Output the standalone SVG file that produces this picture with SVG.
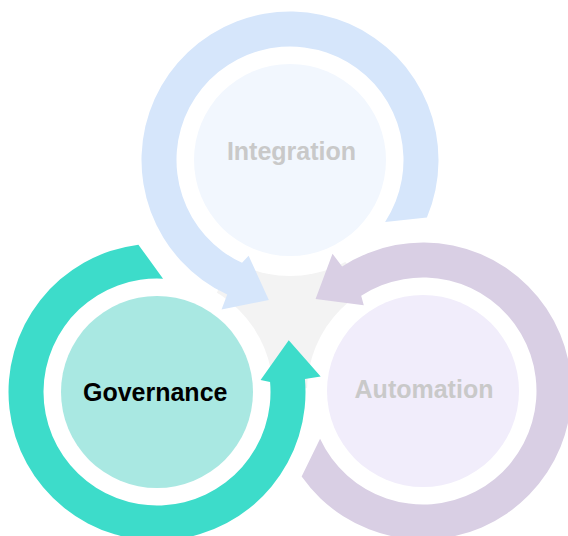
<svg xmlns="http://www.w3.org/2000/svg" xmlns:xlink="http://www.w3.org/1999/xlink" width="568" height="536" viewBox="0 0 568 536">
  <style>
    .halo { fill: #ffffff; }
    .label { font-family: "Liberation Sans", Arial, sans-serif; font-weight: bold; font-size: 25px; text-anchor: middle; }
    .faded { fill: #c9c9c9; }
    .dark { fill: #000000; }
  </style>
  <defs>
    <path id="cycleArrow" d="M -62.76 134.59 A 148.5 148.5 0 1 1 136.90 57.55 L 95.12 61.93 A 113.5 113.5 0 1 0 -47.97 102.87 L -41.4 95.7 L -21.16 139.91 L -68.44 149.48 Z"/>
  </defs>
  <rect width="568" height="536" fill="#ffffff"/>
  <g id="backdrop">
    <circle cx="290" cy="314" r="76" fill="#f3f3f3"/>
    <circle class="halo" cx="290" cy="160" r="116"/>
    <circle class="halo" cx="157" cy="392" r="116"/>
    <circle class="halo" cx="423" cy="391" r="116"/>
  </g>
  <g id="connectors">
    <use xlink:href="#cycleArrow" href="#cycleArrow" transform="translate(290 160)" fill="#d6e6fb"/>
    <use xlink:href="#cycleArrow" href="#cycleArrow" transform="translate(423 391) rotate(122)" fill="#d9cfe4"/>
    <use xlink:href="#cycleArrow" href="#cycleArrow" transform="translate(157 392) rotate(240)" fill="#3ddcca"/>
  </g>
  <g id="node-integration">
    <circle cx="290" cy="160" r="96" fill="#f2f7fe"/>
    <text class="label faded" x="291.5" y="159.5">Integration</text>
  </g>
  <g id="node-governance">
    <circle cx="157" cy="392" r="96" fill="#a9e8e2"/>
    <text class="label dark" x="155.2" y="401">Governance</text>
  </g>
  <g id="node-automation">
    <circle cx="423" cy="391" r="96" fill="#f1edfb"/>
    <text class="label faded" x="424" y="397.7">Automation</text>
  </g>
</svg>
